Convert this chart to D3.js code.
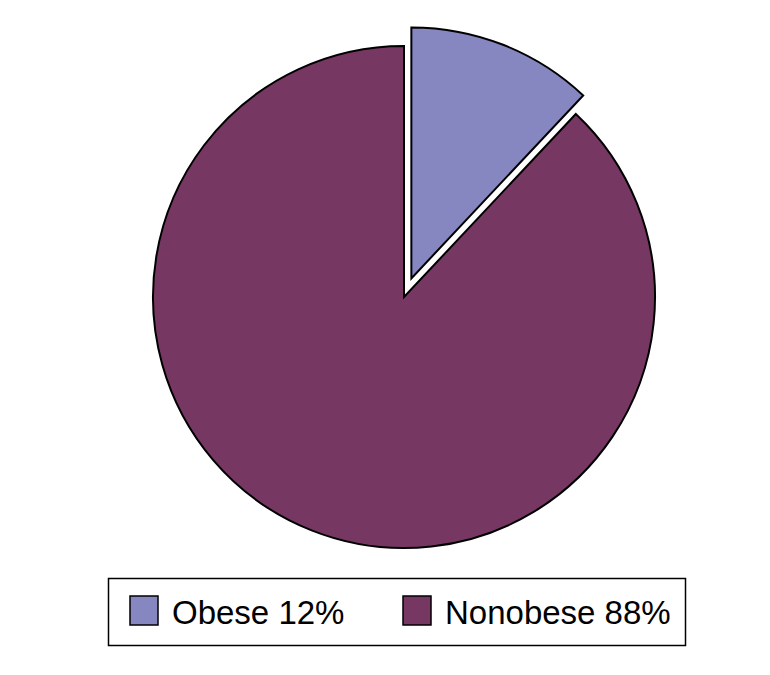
<!doctype html>
<html lang="en">
<head>
  <meta charset="utf-8">
  <title>Obese vs nonobese</title>
  <style>
    body { margin: 0; background: #fff; }
    svg { display: block; }
    text { font-family: "Liberation Sans", Arial, sans-serif; }
  </style>
</head>
<body>
  <script src="https://cdn.jsdelivr.net/npm/d3@7"></script>
  <svg id="chart" width="770" height="675"></svg>
  <script>
    // data
    var categories = ["Obese", "Nonobese"];
    var shares = [12, 88];
    var sliceColors = ["#8686c0", "#773763"];
    var exploded = [true, false];

    var svg = d3.select("#chart");
    var cx = 404, cy = 297, r = 251, pull = 20;

    var data = categories.map((c, i) => ({ name: c, value: shares[i], color: sliceColors[i], out: exploded[i] }));

    var pie = d3.pie().sort(null).value(d => d.value);
    var arc = d3.arc().innerRadius(0).outerRadius(r);

    var slices = svg.append("g")
      .attr("transform", `translate(${cx},${cy})`)
      .selectAll("path")
      .data(pie(data))
      .enter()
      .append("path")
        .attr("d", arc)
        .attr("transform", d => {
          if (!d.data.out) return null;
          var mid = (d.startAngle + d.endAngle) / 2;
          return `translate(${Math.sin(mid) * pull},${-Math.cos(mid) * pull})`;
        })
        .style("fill", d => d.data.color)
        .style("stroke", "#000")
        .style("stroke-width", "2px")
        .style("stroke-linejoin", "miter");

    // legend
    var legend = svg.append("g");
    legend.append("rect")
      .attr("x", 108.5).attr("y", 578.5)
      .attr("width", 577).attr("height", 67)
      .style("fill", "#fff").style("stroke", "#000").style("stroke-width", "1.5px");

    var itemX = [130, 403];
    var items = legend.selectAll("g.item")
      .data(data)
      .enter()
      .append("g")
        .attr("class", "item")
        .attr("transform", (d, i) => `translate(${itemX[i]},596)`);
    items.append("rect")
      .attr("width", 28).attr("height", 29)
      .style("fill", d => d.color)
      .style("stroke", "#000").style("stroke-width", "1.5px");
    items.append("text")
      .attr("x", 42).attr("y", 28)
      .style("font-size", "33px")
      .text((d, i) => `${d.name} ${shares[i]}%`);
  </script>
</body>
</html>
